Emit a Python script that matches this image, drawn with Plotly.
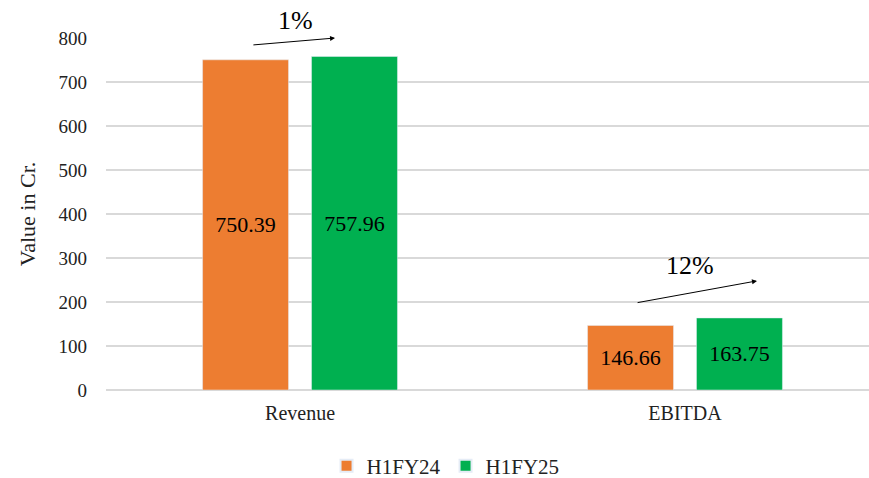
import plotly.graph_objects as go

categories = ["Revenue", "EBITDA"]
h1fy24 = [750.39, 146.66]
h1fy25 = [757.96, 163.75]
growth_labels = ["1%", "12%"]
y_ticks = [0, 100, 200, 300, 400, 500, 600, 700, 800]

font_family = "Liberation Serif, Times New Roman, serif"

fig = go.Figure()
fig.add_trace(go.Bar(
    name="H1FY24", x=categories, y=h1fy24, marker_color="#ED7D31",
    text=[f"{v:.2f}" for v in h1fy24], textposition="inside",
    insidetextanchor="middle", textfont=dict(size=22, color="black", family=font_family),
))
fig.add_trace(go.Bar(
    name="H1FY25", x=categories, y=h1fy25, marker_color="#00B050",
    text=[f"{v:.2f}" for v in h1fy25], textposition="inside",
    insidetextanchor="middle", textfont=dict(size=22, color="black", family=font_family),
))

# growth arrows
fig.add_annotation(x=0.091, y=800, ax=-0.125, ay=784, xref="x", yref="y",
                   axref="x", ayref="y", showarrow=True, arrowhead=2,
                   arrowsize=1, arrowwidth=1, arrowcolor="black", text="")
fig.add_annotation(x=-0.013, y=1.05, xref="x", yref="paper", yanchor="middle",
                   text=growth_labels[0], showarrow=False,
                   font=dict(size=26, color="black", family=font_family))
fig.add_annotation(x=1.187, y=248, ax=0.873, ay=198, xref="x", yref="y",
                   axref="x", ayref="y", showarrow=True, arrowhead=2,
                   arrowsize=1, arrowwidth=1, arrowcolor="black", text="")
fig.add_annotation(x=1.013, y=282, xref="x", yref="y", yanchor="middle",
                   text=growth_labels[1], showarrow=False,
                   font=dict(size=26, color="black", family=font_family))

fig.update_layout(
    width=869, height=478,
    margin=dict(l=106, r=0, t=38, b=88, autoexpand=False),
    paper_bgcolor="white", plot_bgcolor="white",
    barmode="group", bargap=0.434, bargroupgap=0.211,
    font=dict(family=font_family, color="#222222"),
    showlegend=True,
    legend=dict(orientation="h", x=0.445, xanchor="center", yref="container",
                y=0.025, yanchor="middle",
                font=dict(size=21, color="#222222", family=font_family),
                itemsizing="constant", traceorder="normal", itemwidth=30,
                tracegroupgap=0),
)
fig.update_xaxes(range=[-0.504, 1.478], showgrid=False, showline=False, ticks="",
                 ticklabelstandoff=9,
                 tickfont=dict(size=20, color="#222222", family=font_family))
fig.update_yaxes(range=[0, 800], tickvals=y_ticks, showgrid=True, gridcolor="#d9d9d9",
                 gridwidth=1.5, zeroline=True, zerolinecolor="#d9d9d9", zerolinewidth=1.5,
                 showline=False, ticks="", ticklabelstandoff=18,
                 tickfont=dict(size=19, color="#222222", family=font_family),
                 title=dict(text="Value in Cr.", standoff=16,
                            font=dict(size=22, color="#222222", family=font_family)))

fig.write_html("out.html")
